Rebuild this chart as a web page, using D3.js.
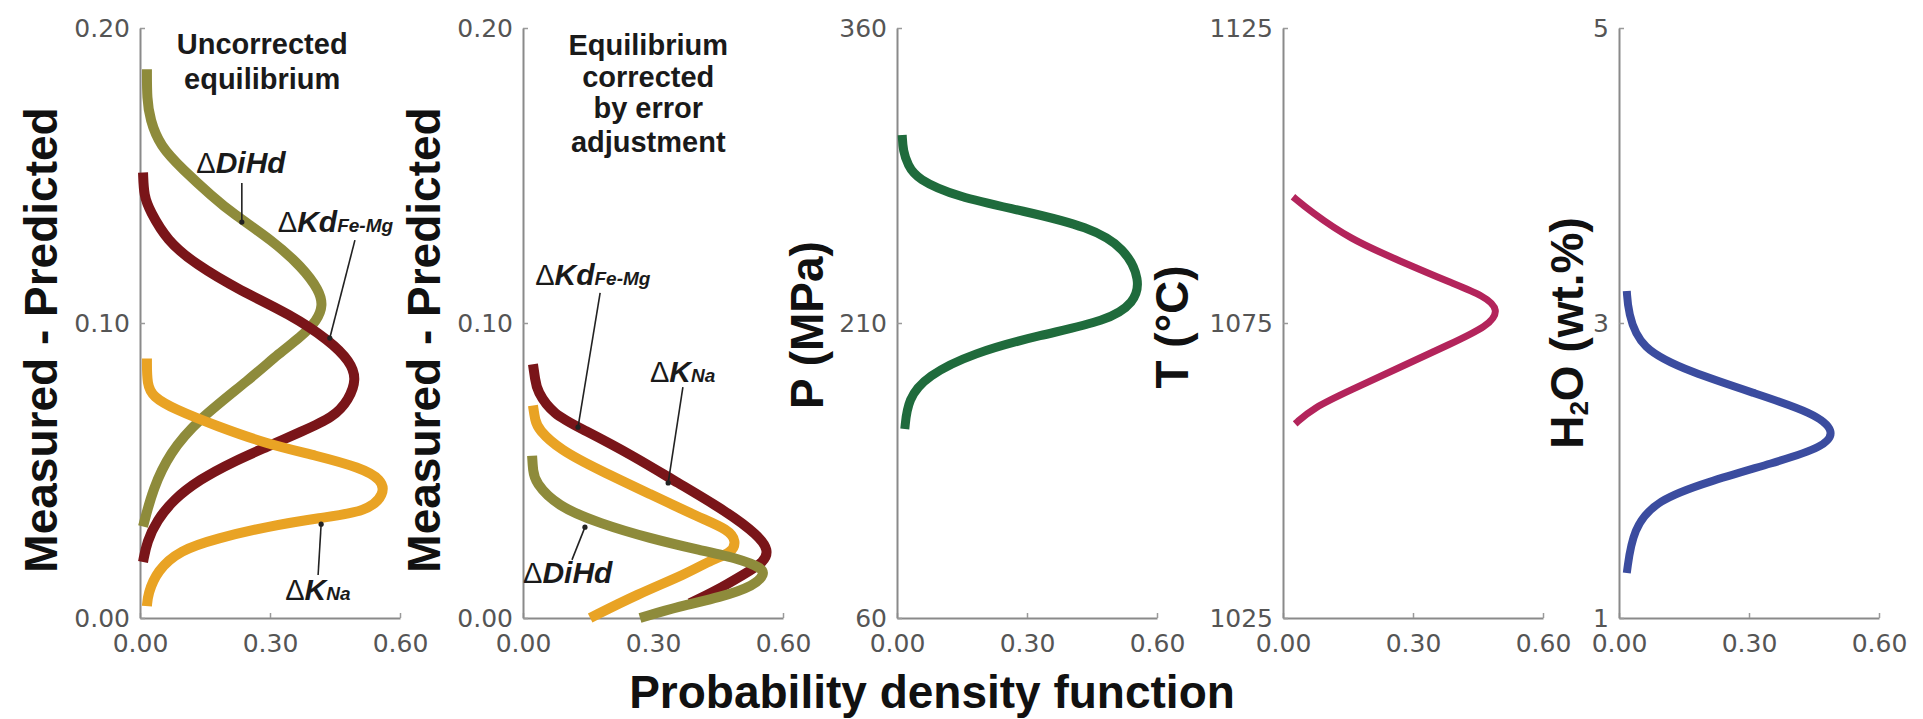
<!DOCTYPE html>
<html><head><meta charset="utf-8">
<script src="https://cdn.jsdelivr.net/npm/d3@7"></script>
<style>body{margin:0;background:#fff}svg{display:block;background:#fff}</style>
</head><body><svg id="c" width="1923" height="719"></svg>
<script>
// ---------- data: [probability density, value] ----------
const xTickValues = [0.00, 0.30, 0.60];
const yTicksDelta = [0.00, 0.10, 0.20];
const yTicksP = [60, 210, 360];
const yTicksT = [1025, 1075, 1125];
const yTicksH2O = [1, 3, 5];

const unc_DiHd = [[0.016,0.186],[0.016,0.176],[0.023,0.169],[0.046,0.160],[0.099,0.152],[0.166,0.143],[0.215,0.137],[0.305,0.128],[0.374,0.119],[0.414,0.111],[0.422,0.106],[0.410,0.101],[0.369,0.095],[0.323,0.090],[0.254,0.081],[0.132,0.067],[0.069,0.056],[0.030,0.044],[0.007,0.031]];
const unc_KdFeMg = [[0.007,0.151],[0.009,0.143],[0.023,0.138],[0.062,0.128],[0.127,0.120],[0.231,0.111],[0.346,0.103],[0.438,0.094],[0.485,0.087],[0.500,0.081],[0.482,0.074],[0.447,0.068],[0.369,0.063],[0.293,0.058],[0.215,0.053],[0.138,0.047],[0.076,0.040],[0.039,0.033],[0.016,0.026],[0.007,0.019]];
const unc_KNa = [[0.016,0.088],[0.016,0.079],[0.030,0.075],[0.076,0.071],[0.178,0.065],[0.293,0.059],[0.408,0.055],[0.508,0.051],[0.558,0.047],[0.565,0.042],[0.524,0.036],[0.415,0.034],[0.293,0.031],[0.178,0.027],[0.092,0.023],[0.039,0.016],[0.018,0.008],[0.016,0.004]];

const cor_KdFeMg = [[0.023,0.086],[0.028,0.081],[0.032,0.077],[0.069,0.069],[0.138,0.064],[0.254,0.055],[0.355,0.046],[0.471,0.036],[0.543,0.028],[0.567,0.023],[0.557,0.019],[0.512,0.015],[0.443,0.009],[0.385,0.005]];
const cor_KNa = [[0.023,0.072],[0.028,0.067],[0.035,0.064],[0.085,0.057],[0.178,0.050],[0.293,0.042],[0.408,0.034],[0.474,0.030],[0.493,0.026],[0.481,0.022],[0.438,0.020],[0.378,0.015],[0.263,0.008],[0.155,0.000]];
const cor_DiHd = [[0.021,0.055],[0.023,0.050],[0.028,0.046],[0.078,0.038],[0.178,0.032],[0.293,0.027],[0.408,0.023],[0.501,0.020],[0.550,0.017],[0.558,0.015],[0.535,0.011],[0.455,0.007],[0.362,0.004],[0.270,0.000]];

const pressure = [[0.012,305.6],[0.014,297.5],[0.025,290.3],[0.046,283.2],[0.138,274.1],[0.291,267.0],[0.445,258.8],[0.526,248.1],[0.562,231.9],[0.548,220.2],[0.485,211.0],[0.330,203.9],[0.175,194.7],[0.069,183.1],[0.025,171.4],[0.018,156.1]];
const temperature = [[0.023,1096.4],[0.062,1094.0],[0.155,1089.2],[0.270,1085.5],[0.385,1081.9],[0.465,1079.6],[0.500,1077.2],[0.474,1074.5],[0.385,1071.4],[0.270,1067.5],[0.155,1063.6],[0.069,1060.6],[0.028,1057.9]];
const water = [[0.018,3.217],[0.021,3.075],[0.048,2.824],[0.164,2.668],[0.318,2.519],[0.450,2.390],[0.500,2.268],[0.474,2.159],[0.356,2.051],[0.203,1.922],[0.088,1.800],[0.032,1.610],[0.018,1.305]];

// ---------- layout ----------
const yTop = 28, yBot = 618, pw = 260;
const C = {olive:"#8e8b3b", red:"#7a1519", amber:"#e9a324", green:"#1f6b3c", crimson:"#b3245b", blue:"#3b4c9f"};
const svg = d3.select("#c");
const BOLD = "'Liberation Sans', Arial, sans-serif";
const TICKF = "'DejaVu Sans', sans-serif";

const panels = [
  {x0:140, dom:[0,0.2], ticks:yTicksDelta, fmt:d3.format(".2f"),
   series:[{d:unc_DiHd,c:C.olive,w:10},{d:unc_KdFeMg,c:C.red,w:10},{d:unc_KNa,c:C.amber,w:10}],
   title:{x:57,y:340,parts:[{t:"Measured - Predicted"}]}},
  {x0:523, dom:[0,0.2], ticks:yTicksDelta, fmt:d3.format(".2f"),
   series:[{d:cor_KdFeMg,c:C.red,w:10},{d:cor_KNa,c:C.amber,w:10},{d:cor_DiHd,c:C.olive,w:10}],
   title:{x:440,y:340,parts:[{t:"Measured - Predicted"}]}},
  {x0:897, dom:[60,360], ticks:yTicksP, fmt:d3.format("d"),
   series:[{d:pressure,c:C.green,w:9}],
   title:{x:823,y:325,parts:[{t:"P (MPa)"}]}},
  {x0:1283, dom:[1025,1125], ticks:yTicksT, fmt:d3.format("d"),
   series:[{d:temperature,c:C.crimson,w:7}],
   title:{x:1188,y:327,parts:[{t:"T (°C)"}]}},
  {x0:1619, dom:[1,5], ticks:yTicksH2O, fmt:d3.format("d"),
   series:[{d:water,c:C.blue,w:8}],
   title:{x:1583,y:333,parts:[{t:"H"},{t:"2",sub:true},{t:"O (wt.%)"}]}}
];

panels.forEach(p => {
  p.x = d3.scaleLinear().domain([0,0.6]).range([p.x0, p.x0+pw]);
  p.y = d3.scaleLinear().domain(p.dom).range([yBot, yTop]);
  const g = svg.append("g");
  const ax = g.append("g").attr("transform",`translate(0,${yBot})`)
    .call(d3.axisBottom(p.x).tickValues(xTickValues).tickFormat(d3.format(".2f")).tickSizeInner(-5).tickSizeOuter(0).tickPadding(16));
  const ay = g.append("g").attr("transform",`translate(${p.x0},0)`)
    .call(d3.axisLeft(p.y).tickValues(p.ticks).tickFormat(p.fmt).tickSizeInner(-5).tickSizeOuter(0).tickPadding(10));
  [ax, ay].forEach(a => {
    a.select(".domain").attr("stroke","#8a8a8a").attr("stroke-width",2);
    a.selectAll(".tick line").attr("stroke","#9a9a9a").attr("stroke-width",1.5);
    a.selectAll(".tick text").attr("fill","#555").style("font-family",TICKF).style("font-size","25px");
  });
  ay.selectAll(".tick text").attr("dy","0.32em");
  const line = d3.line().x(d=>p.x(d[0])).y(d=>p.y(d[1])).curve(d3.curveBasis);
  p.series.forEach(s => {
    g.append("path").attr("d", line(s.d)).attr("fill","none").attr("stroke",s.c)
      .attr("stroke-width",s.w).attr("stroke-linecap","butt").attr("stroke-linejoin","round");
  });
  const t = g.append("text").attr("transform",`translate(${p.title.x},${p.title.y}) rotate(-90)`)
    .attr("text-anchor","middle").style("font-family",BOLD).style("font-weight","bold")
    .style("font-size","46px").attr("fill","#111");
  p.title.parts.forEach((pt,i) => {
    const ts = t.append("tspan").text(pt.t);
    if (pt.sub) { ts.style("font-size","26px").attr("dy","5"); }
    else if (i > 0) { ts.attr("dy","-5"); }
  });
  p.g = g;
});

// ---------- annotations ----------
function mlabel(p, v, val, main, sub, anchor) {
  const t = p.g.append("text").attr("x",p.x(v)).attr("y",p.y(val))
    .attr("text-anchor",anchor||"start").attr("fill","#1a1a1a").style("font-family",BOLD);
  t.append("tspan").text("Δ").style("font-size","29px").style("font-weight","normal");
  t.append("tspan").text(main).style("font-size","30px").style("font-weight","bold").style("font-style","italic");
  if (sub) t.append("tspan").text(sub).style("font-size","19px").style("font-weight","bold").style("font-style","italic");
}
function leader(p, a, b) {
  p.g.append("line").attr("x1",p.x(a[0])).attr("y1",p.y(a[1])).attr("x2",p.x(b[0])).attr("y2",p.y(b[1]))
    .attr("stroke","#222").attr("stroke-width",1.6);
  p.g.append("circle").attr("cx",p.x(b[0])).attr("cy",p.y(b[1])).attr("r",2.6).attr("fill","#222");
}
function block(p, v, vals, lines) {
  lines.forEach((l,i) => p.g.append("text").attr("x",p.x(v)).attr("y",p.y(vals[i]))
    .attr("text-anchor","middle").text(l).attr("fill","#1a1a1a")
    .style("font-family",BOLD).style("font-weight","bold").style("font-size","29px"));
}
const P1 = panels[0], P2 = panels[1];
block(P1, 0.282, [0.1912,0.1793], ["Uncorrected","equilibrium"]);
mlabel(P1, 0.233, 0.1508, "DiHd", null, "middle");
leader(P1, [0.235,0.1475], [0.235,0.1342]);
mlabel(P1, 0.318, 0.1308, "Kd", "Fe-Mg");
leader(P1, [0.496,0.1281], [0.438,0.0949]);
mlabel(P1, 0.335, 0.0061, "K", "Na");
leader(P1, [0.411,0.0146], [0.418,0.0318]);

block(P2, 0.289, [0.1908,0.1800,0.1695,0.1580], ["Equilibrium","corrected","by error","adjustment"]);
mlabel(P2, 0.028, 0.1129, "Kd", "Fe-Mg");
leader(P2, [0.178,0.1102], [0.127,0.0647]);
mlabel(P2, 0.293, 0.0800, "K", "Na");
leader(P2, [0.369,0.0783], [0.335,0.0458]);
mlabel(P2, 0.0, 0.0119, "DiHd", null);
leader(P2, [0.113,0.0197], [0.143,0.0308]);

svg.append("text").attr("x",932).attr("y",708).attr("text-anchor","middle")
  .text("Probability density function").attr("fill","#111")
  .style("font-family",BOLD).style("font-weight","bold").style("font-size","46px");
</script></body></html>
